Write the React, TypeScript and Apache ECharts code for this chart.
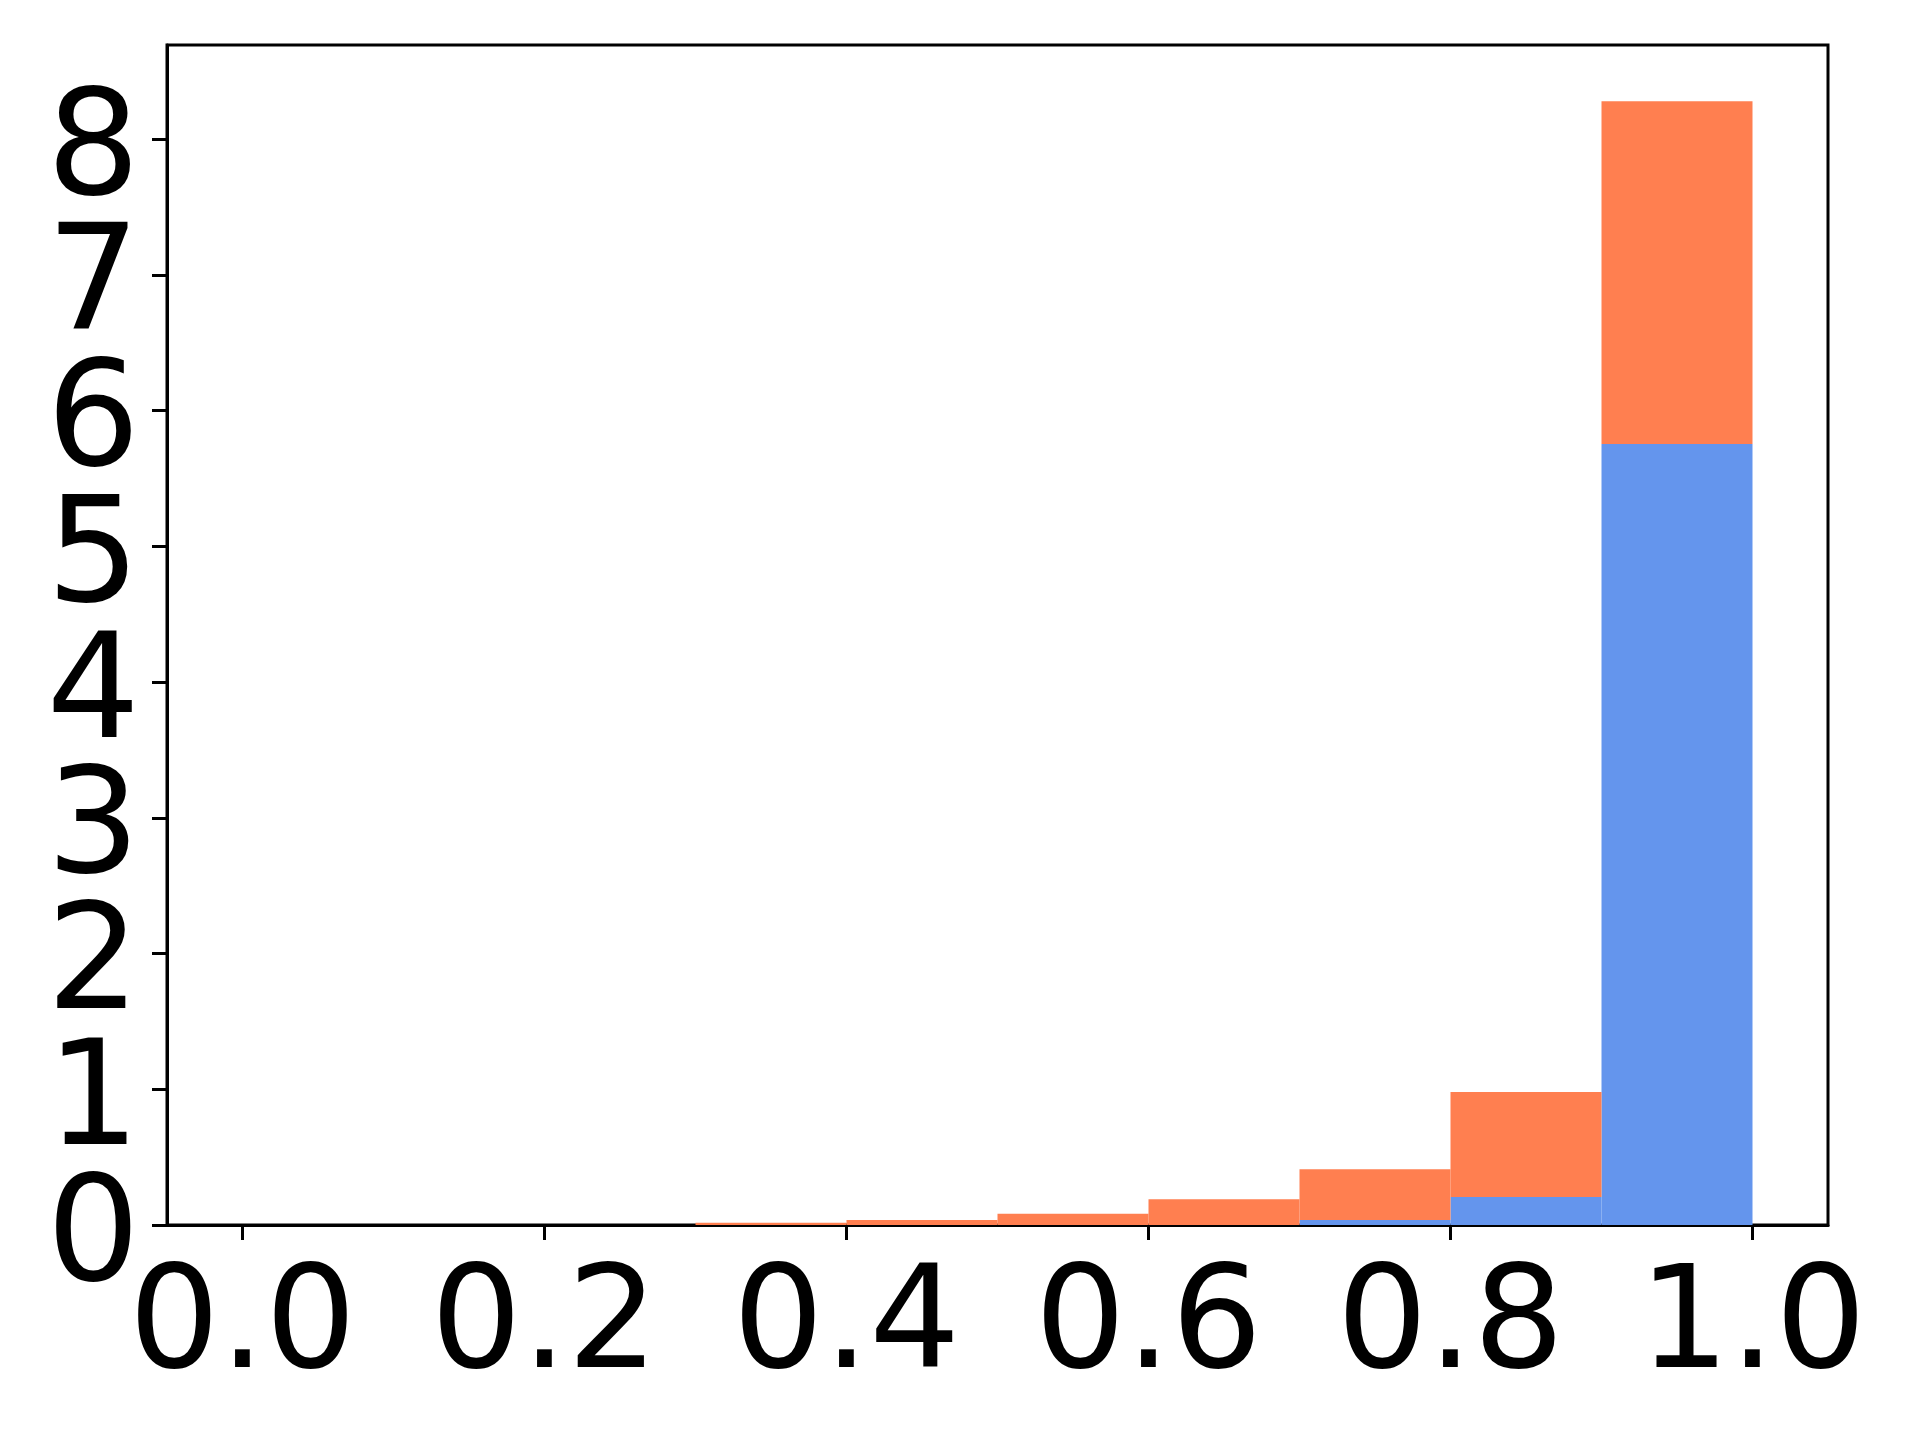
import React, { useEffect, useRef } from "react";
import * as echarts from "echarts";

// Histogram bins (left edges), width 0.1
const binStarts = [0.0, 0.1, 0.2, 0.3, 0.4, 0.5, 0.6, 0.7, 0.8, 0.9];
const binWidth = 0.1;
// Stacked density histogram: blue (bottom) and orange (stacked on top)
const blueValues = [0, 0, 0, 0, 0, 0, 0, 0.037, 0.206, 5.755];
const orangeValues = [0, 0, 0, 0.017, 0.037, 0.083, 0.19, 0.373, 0.774, 2.525];
const xTicks = [0.0, 0.2, 0.4, 0.6, 0.8, 1.0];
const yTicksEven = [0, 2, 4, 6, 8];
const yTicksOdd = [1, 3, 5, 7];

const BLUE = "#6495ED";
const ORANGE = "#FF7F50";

export default function App() {
  const ref = useRef<HTMLDivElement>(null);
  useEffect(() => {
    if (!ref.current) return;
    const chart = echarts.init(ref.current, null, { renderer: "svg" });
    const blueData = binStarts.map((s, i) => [s, s + binWidth, 0, blueValues[i]]);
    const orangeData = binStarts.map((s, i) => [
      s,
      s + binWidth,
      blueValues[i],
      blueValues[i] + orangeValues[i],
    ]);
    const totals = binStarts.map((_, i) => blueValues[i] + orangeValues[i]);
    const yMax = Math.max(...totals) * 1.05;

    const renderItem = (color: string) => (params: any, api: any) => {
      const x0 = api.value(0);
      const x1 = api.value(1);
      const y0 = api.value(2);
      const y1 = api.value(3);
      if (y1 - y0 <= 0) return null;
      const p0 = api.coord([x0, y1]);
      const p1 = api.coord([x1, y0]);
      return {
        type: "rect",
        shape: { x: p0[0], y: p0[1], width: p1[0] - p0[0], height: p1[1] - p0[1] },
        style: { fill: color },
      };
    };

    const font = "DejaVu Sans";
    const yAxisFor = (ticks: number[], showLine: boolean) => ({
      type: "value",
      min: 0,
      max: yMax,
      position: "left",
      offset: 0,
      axisLine: { show: showLine, onZero: false, lineStyle: { color: "#000", width: 3 } },
      axisTick: {
        show: true,
        length: 15,
        customValues: ticks,
        lineStyle: { color: "#000", width: 3 },
      },
      axisLabel: {
        show: true,
        customValues: ticks,
        formatter: (v: number) => "{n|" + String(Math.round(v)) + "}",
        rich: {
          n: {
            fontFamily: font,
            fontSize: 147,
            color: "#000",
            padding: [8, 0, 0, 0],
          },
        },
        fontFamily: font,
        fontSize: 147,
        color: "#000",
        margin: 27,
        showMinLabel: true,
        showMaxLabel: true,
        hideOverlap: false,
      },
      splitLine: { show: false },
    });

    chart.setOption({
      animation: false,
      backgroundColor: "#ffffff",
      grid: {
        left: 167,
        right: 92,
        top: 45,
        bottom: 215,
        show: true,
        borderColor: "#000000",
        borderWidth: 3,
        backgroundColor: "transparent",
        containLabel: false,
      },
      xAxis: {
        type: "value",
        min: -0.05,
        max: 1.05,
        axisLine: { show: true, onZero: false, lineStyle: { color: "#000", width: 3 } },
        axisTick: {
          show: true,
          length: 15,
          inside: false,
          customValues: xTicks,
          lineStyle: { color: "#000", width: 3 },
        },
        axisLabel: {
          show: true,
          customValues: xTicks,
          formatter: (v: number) => v.toFixed(1),
          fontFamily: font,
          fontSize: 143,
          color: "#000",
          margin: 21,
          showMinLabel: true,
          showMaxLabel: true,
          hideOverlap: false,
        },
        splitLine: { show: false },
      },
      yAxis: [yAxisFor(yTicksEven, true), yAxisFor(yTicksOdd, false)],
      series: [
        {
          type: "custom",
          name: "blue",
          renderItem: renderItem(BLUE),
          encode: { x: [0, 1], y: [2, 3] },
          data: blueData,
          yAxisIndex: 0,
          z: 2,
        },
        {
          type: "custom",
          name: "orange",
          renderItem: renderItem(ORANGE),
          encode: { x: [0, 1], y: [2, 3] },
          data: orangeData,
          yAxisIndex: 0,
          z: 2,
        },
      ],
    });
    return () => chart.dispose();
  }, []);
  return (
    <div
      ref={ref}
      style={{ position: "fixed", left: 0, top: 0, width: 1920, height: 1440, background: "#fff" }}
    />
  );
}
